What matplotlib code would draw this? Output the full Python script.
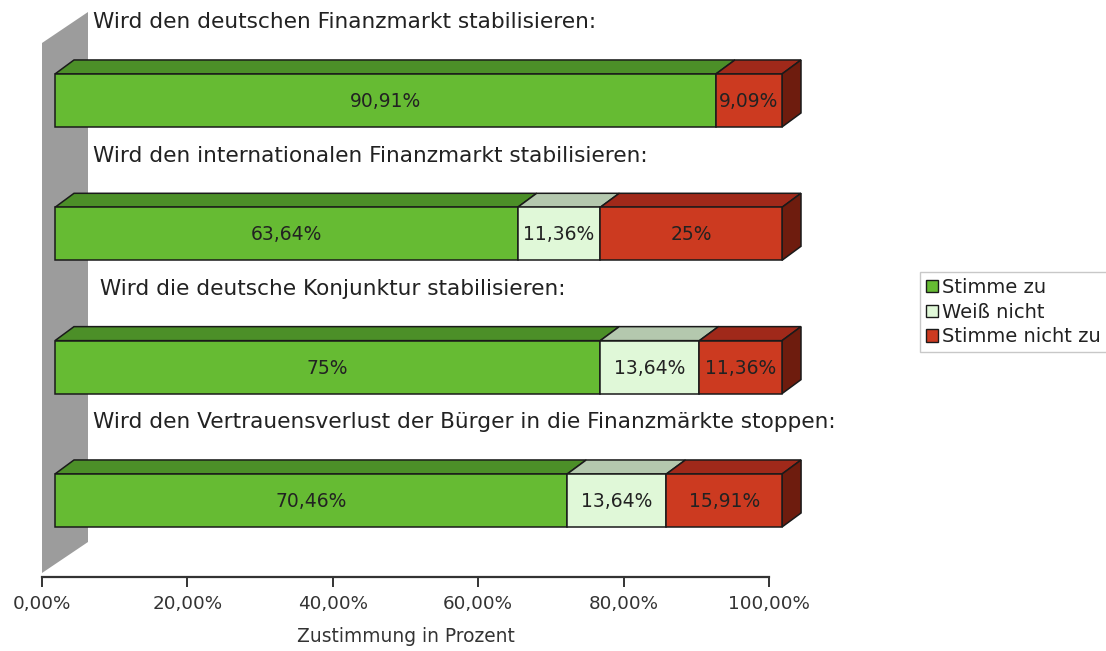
import numpy as np
import matplotlib.pyplot as plt
from matplotlib.patches import Polygon, Patch
from matplotlib.ticker import FuncFormatter

# Umfrage: Wirkung des Finanzmarktstabilisierungsgesetzes
questions = [
    "Wird den deutschen Finanzmarkt stabilisieren:",
    "Wird den internationalen Finanzmarkt stabilisieren:",
    " Wird die deutsche Konjunktur stabilisieren:",
    "Wird den Vertrauensverlust der Bürger in die Finanzmärkte stoppen:",
]
stimme_zu = [90.91, 63.64, 75.00, 70.46]
weiss_nicht = [0.00, 11.36, 13.64, 13.64]
stimme_nicht_zu = [9.09, 25.00, 11.36, 15.91]

series_names = ["Stimme zu", "Weiß nicht", "Stimme nicht zu"]
# (front, top, side)
series_colors = [
    ("#66BB33", "#4C8F28", "#3A6E1E"),
    ("#E0F8D8", "#B4C8AE", "#9AAE94"),
    ("#CC3A20", "#A0291A", "#6E1C0E"),
]
x_ticks = [0, 20, 40, 60, 80, 100]

W, H = 1106, 651
fig = plt.figure(figsize=(W / 100, H / 100), dpi=100)
ax = fig.add_axes([42 / W, 1 - 577 / H, 727 / W, 534 / H])
ax.set_xlim(0, 100)
ax.set_ylim(3.574, -0.431)

# pixel -> data unit helpers for the fake 3D look
sx = 727 / 100.0
sy = 534 / 4.005
px_x = lambda p: p / sx
px_y = lambda p: p / sy

front_dx = px_x(13)
depth_x, depth_y = px_x(19), px_y(14)
half_h = px_y(26.5)
edge = "#1a1a1a"


def poly(pts, color, z=2):
    ax.add_patch(Polygon(pts, closed=True, facecolor=color, edgecolor=edge,
                         linewidth=1.1, clip_on=False, zorder=z))


# grey back wall
wall_top, wall_bot = -0.431, 3.544
wx, wy = px_x(46), px_y(31)
ax.add_patch(Polygon([(0, wall_top), (0, wall_bot), (wx, wall_bot - wy), (wx, wall_top - wy)],
                     closed=True, facecolor="#9c9c9c", edgecolor="none", clip_on=False, zorder=1))


def fmt(v):
    s = f"{v:.2f}"
    if s.endswith(".00"):
        s = s[:-3]
    return s.replace(".", ",") + "%"


data = np.array([stimme_zu, weiss_nicht, stimme_nicht_zu])
for i, q in enumerate(questions):
    y0, y1 = i - half_h, i + half_h
    left = 0.0
    segs = [(data[k, i], series_colors[k]) for k in range(3) if data[k, i] > 0]
    for j, (v, (cf, ct, cs)) in enumerate(segs):
        x0 = left + front_dx
        x1 = left + v + front_dx
        poly([(x0, y0), (x0 + depth_x, y0 - depth_y), (x1 + depth_x, y0 - depth_y), (x1, y0)], ct)
        if j == len(segs) - 1:
            poly([(x1, y0), (x1 + depth_x, y0 - depth_y), (x1 + depth_x, y1 - depth_y), (x1, y1)], cs)
        poly([(x0, y0), (x1, y0), (x1, y1), (x0, y1)], cf, z=3)
        ax.text((x0 + x1) / 2, i + px_y(1), fmt(v), ha="center", va="center",
                fontsize=13.5, color="#222222", family="DejaVu Sans", zorder=4)
        left += v
    ax.text(px_x(51), i - px_y(78), q, ha="left", va="center", fontsize=15.6,
            color="#222222", family="DejaVu Sans", zorder=4)

# axis styling
for s in ["top", "right", "left"]:
    ax.spines[s].set_visible(False)
ax.spines["bottom"].set_color("#333333")
ax.spines["bottom"].set_linewidth(1.6)
ax.set_yticks([])
ax.set_xticks(x_ticks)
ax.xaxis.set_major_formatter(FuncFormatter(lambda v, p: f"{v:.2f}".replace(".", ",") + "%"))
ax.tick_params(axis="x", direction="out", length=7, width=1.4, color="#333333",
               labelsize=13.2, labelcolor="#333333", pad=6)
ax.set_xlabel("Zustimmung in Prozent", fontsize=13.4, color="#333333", labelpad=10)
ax.patch.set_visible(False)

handles = [Patch(facecolor=c[0], edgecolor=edge, linewidth=1.0) for c in series_colors]
leg = fig.legend(handles, series_names, loc="upper left", bbox_to_anchor=(920 / W, 1 - 272 / H),
                 fontsize=14, frameon=True, fancybox=False, handlelength=0.6, handleheight=0.6,
                 handletextpad=0.25, labelspacing=0.3, borderpad=0.3, borderaxespad=0)
leg.get_frame().set_edgecolor("#bbbbbb")
leg.get_frame().set_linewidth(1.0)
for t in leg.get_texts():
    t.set_color("#222222")

fig.savefig("out.png", dpi=100)
